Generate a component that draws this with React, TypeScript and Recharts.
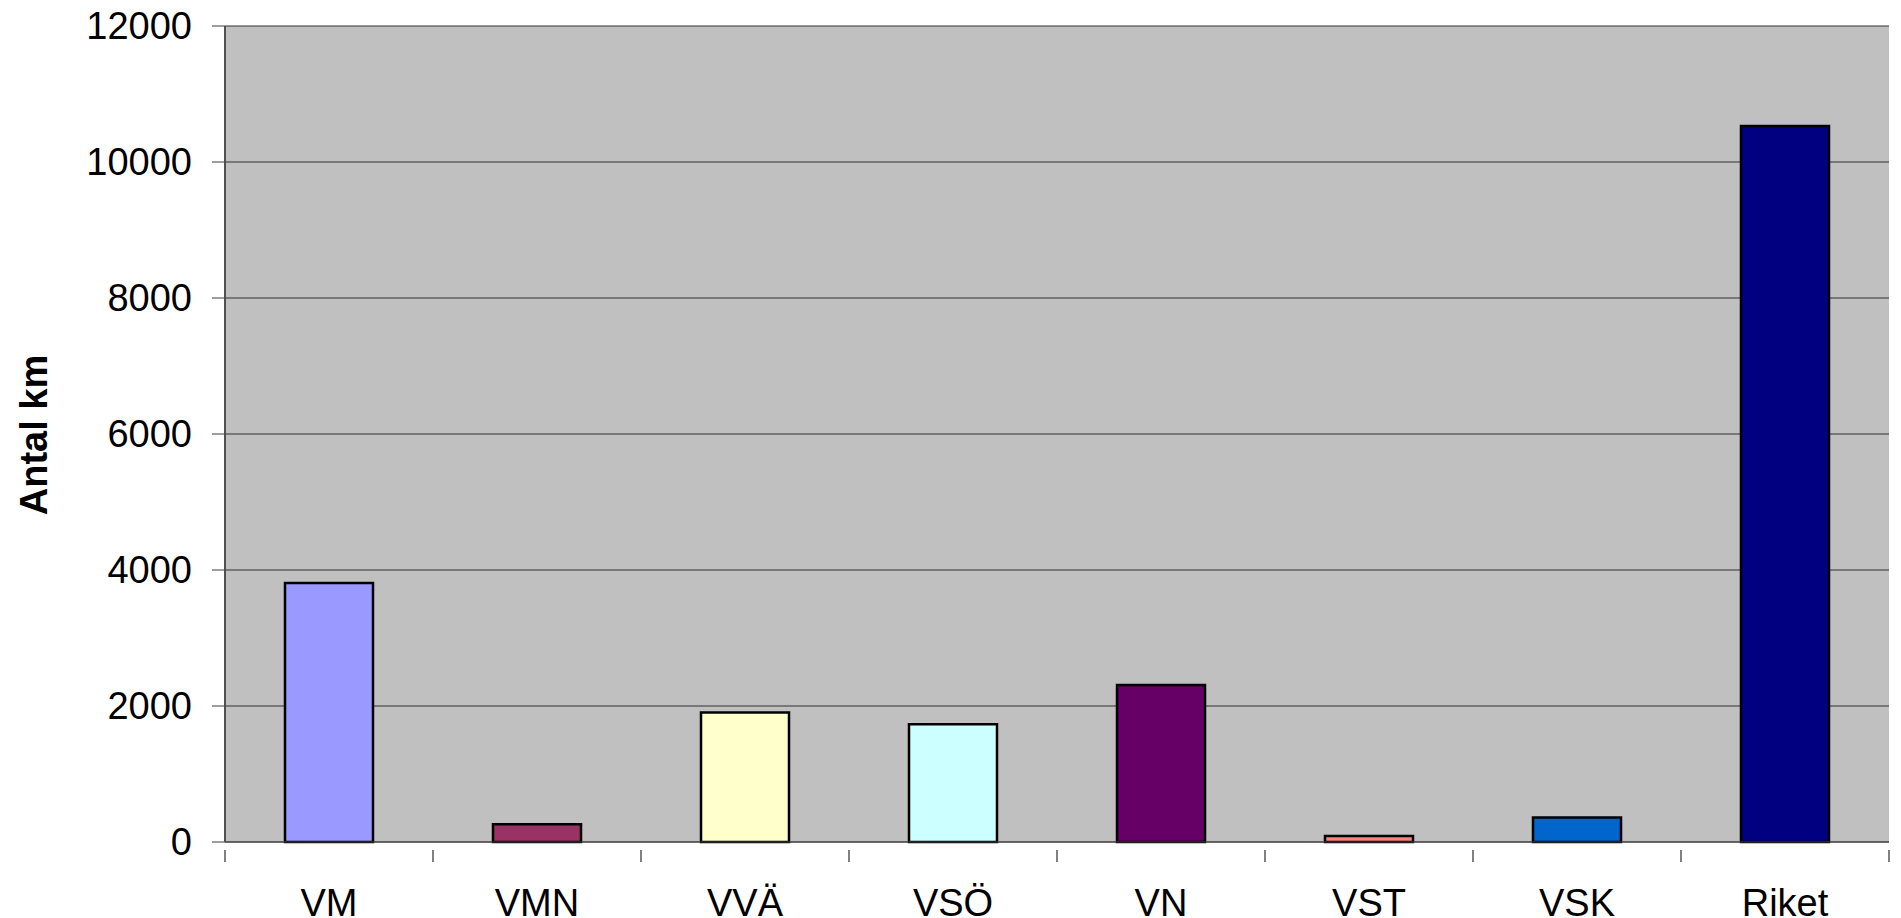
import { BarChart, Bar, XAxis, YAxis, CartesianGrid, Cell } from 'recharts'

const categories = ['VM', 'VMN', 'VVÄ', 'VSÖ', 'VN', 'VST', 'VSK', 'Riket']
const kmValues = [3810, 260, 1905, 1730, 2310, 90, 360, 10530]
const barColors = ['#9999FF', '#993366', '#FFFFCC', '#CCFFFF', '#660066', '#FF8080', '#0066CC', '#000080']
const yTicks = [0, 2000, 4000, 6000, 8000, 10000, 12000]

const data = categories.map((name, i) => ({ name, km: kmValues[i] }))

const W = 1901
const H = 918
const LEFT = 225
const RIGHT = 12
const FONT = '"Liberation Sans", Arial, sans-serif'
const halfBand = (W - LEFT - RIGHT) / categories.length / 2

// category labels centred in the band, tick marks on the band edges (Excel style)
function CategoryTick(props: any) {
  const { x, y, payload, index } = props
  const last = index === categories.length - 1
  return (
    <g>
      <line x1={x - halfBand} x2={x - halfBand} y1={y} y2={y + 12} stroke="#000" strokeWidth={1} />
      {last && <line x1={x + halfBand} x2={x + halfBand} y1={y} y2={y + 12} stroke="#000" strokeWidth={1} />}
      <text x={x} y={y + 66} textAnchor="middle" fontSize={38} fontFamily={FONT} fill="#000">
        {payload.value}
      </text>
    </g>
  )
}

export default function App() {
  return (
    <div style={{ position: 'absolute', left: 0, top: 0, background: '#fff' }}>
      <BarChart width={W} height={H} data={data} margin={{ top: 26, right: RIGHT, bottom: 0, left: 0 }}>
        <CartesianGrid horizontal vertical={false} fill="#C0C0C0" stroke="#303030" strokeWidth={1} />
        <XAxis
          dataKey="name"
          height={76}
          tickLine={false}
          axisLine={{ stroke: '#404040', strokeWidth: 1 }}
          tick={<CategoryTick />}
          interval={0}
        />
        <XAxis xAxisId="top" orientation="top" dataKey="name" height={0} tick={false} tickLine={false} axisLine={{ stroke: '#909090', strokeWidth: 2 }} />
        <YAxis
          width={LEFT}
          domain={[0, 12000]}
          ticks={yTicks}
          interval={0}
          tickSize={13}
          tickMargin={20}
          tickLine={{ stroke: '#404040' }}
          axisLine={{ stroke: '#505050', strokeWidth: 2 }}
          tick={{ fontSize: 38, fontFamily: FONT, fill: '#000' }}
          label={{
            content: () => (
              <text x={47} y={435} transform="rotate(-90, 47, 435)" textAnchor="middle" fontSize={38} fontWeight="bold" fontFamily={FONT} fill="#000">
                Antal km
              </text>
            ),
          }}
        />
        <YAxis yAxisId="right" orientation="right" width={0} tick={false} tickLine={false} axisLine={{ stroke: '#909090', strokeWidth: 2 }} />
        <Bar dataKey="km" barSize={88} stroke="#000" strokeWidth={2.5} isAnimationActive={false}>
          {data.map((d, i) => (
            <Cell key={d.name} fill={barColors[i]} />
          ))}
        </Bar>
      </BarChart>
    </div>
  )
}
